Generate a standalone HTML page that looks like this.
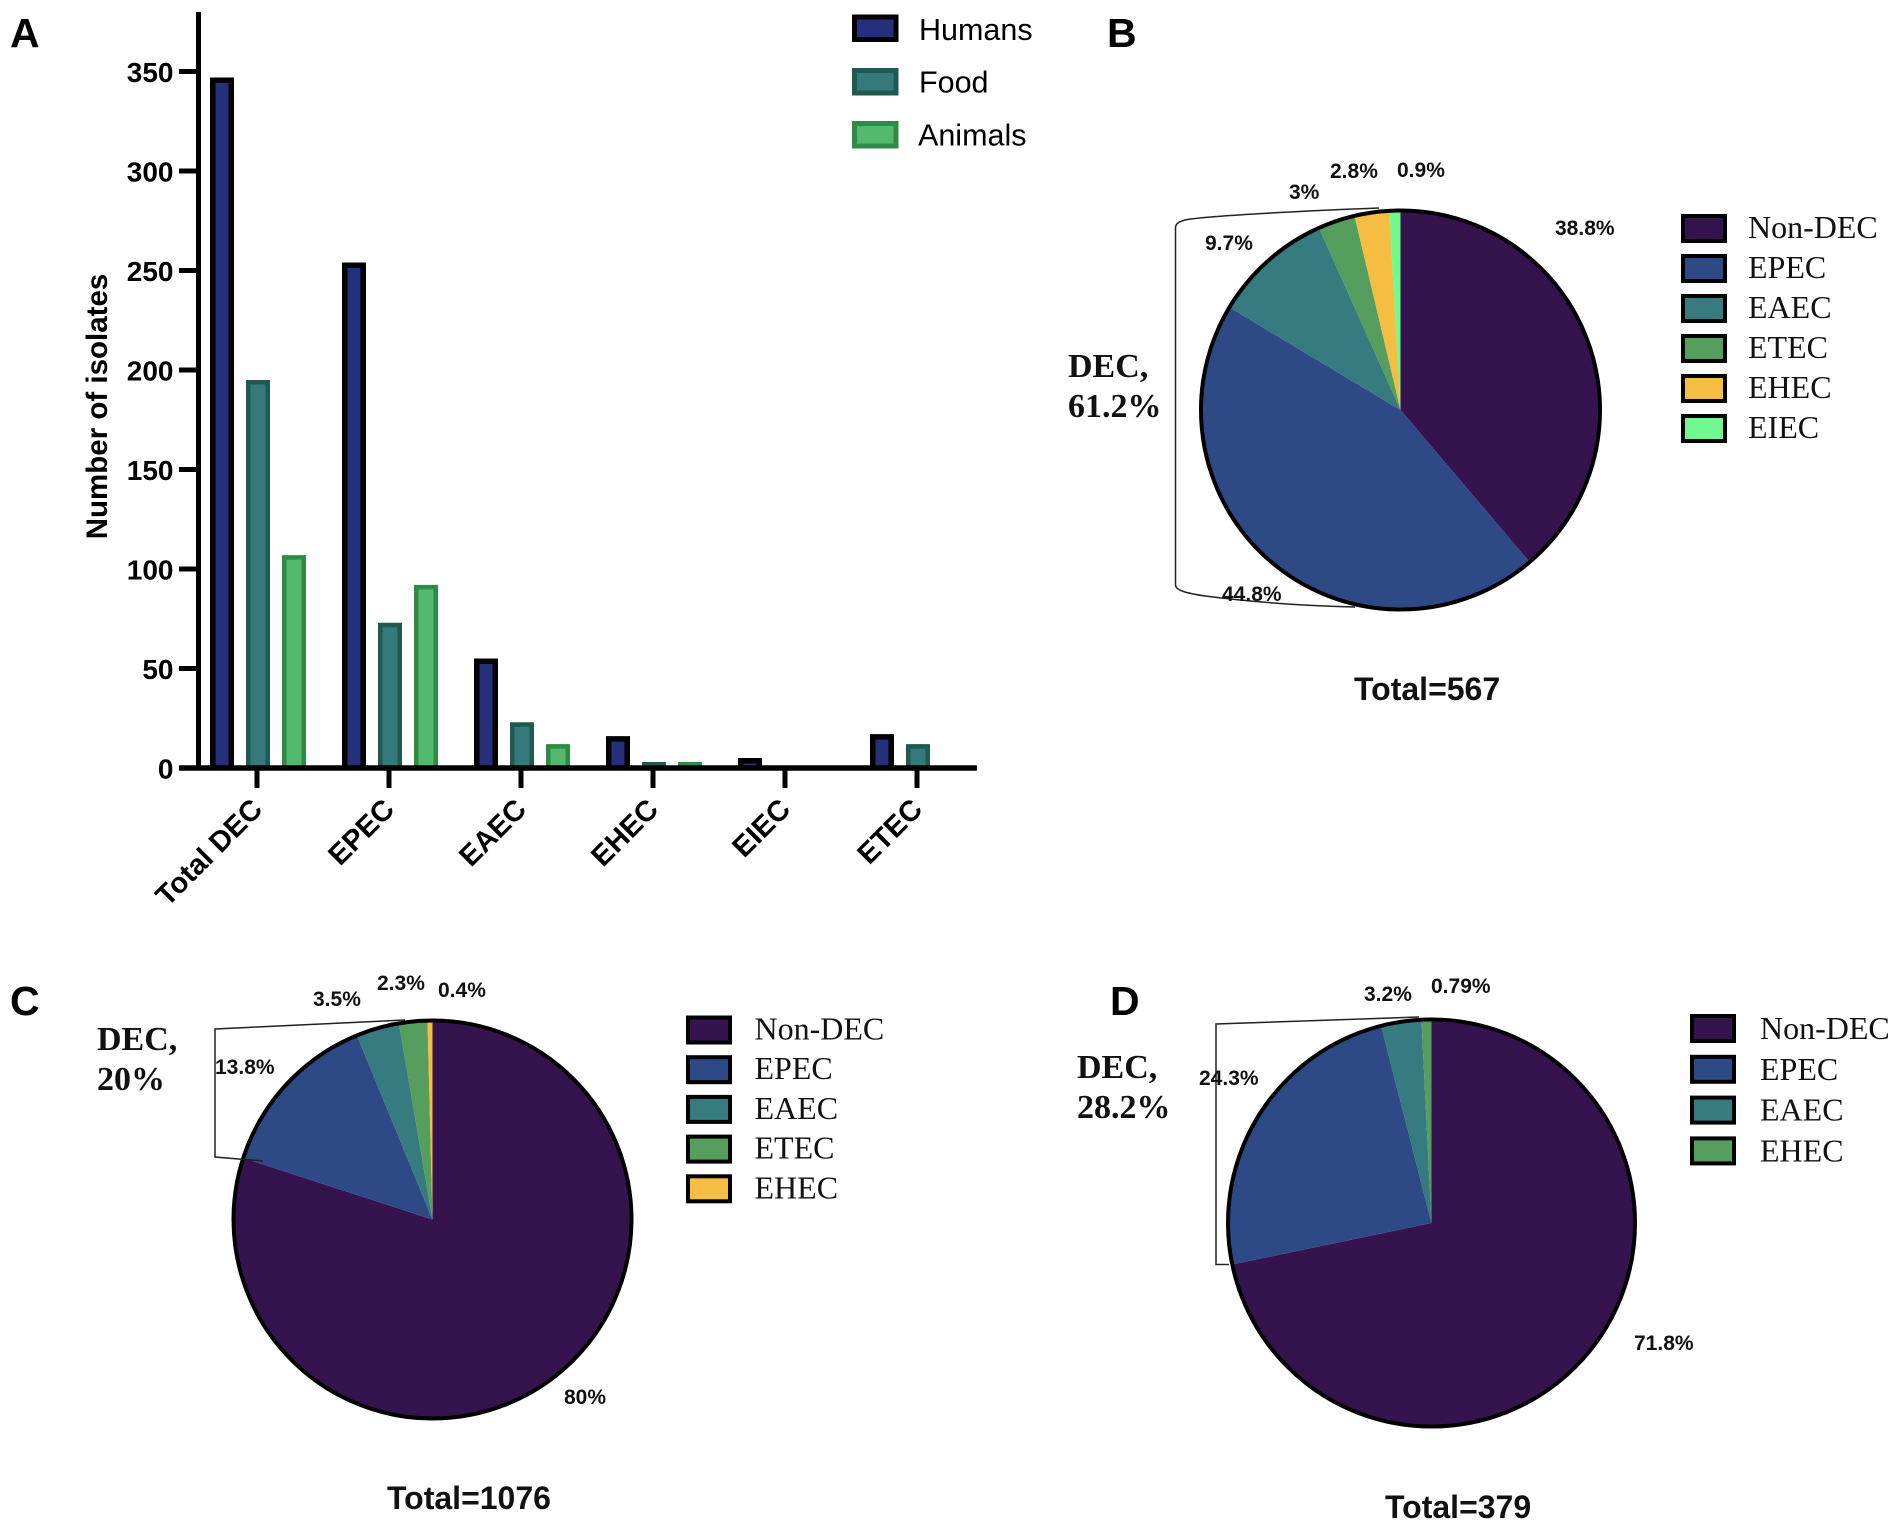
<!DOCTYPE html>
<html lang="en">
<head>
<meta charset="utf-8">
<title>DEC isolates by pathotype</title>
<style>
html,body{margin:0;padding:0;background:#fff;width:1901px;height:1533px;overflow:hidden}
svg{display:block}
.sans{font-family:"Liberation Sans",sans-serif}
.serif{font-family:"Liberation Serif",serif}
.pct{font-family:"Liberation Sans",sans-serif;font-weight:700;font-size:21px;fill:#111}
.dec{font-family:"Liberation Serif",serif;font-weight:700;font-size:34px;fill:#111}
.total{font-family:"Liberation Sans",sans-serif;font-weight:700;font-size:32px;fill:#111}
.letter{font-family:"Liberation Sans",sans-serif;font-weight:700;font-size:41px;fill:#000}
.leg{font-family:"Liberation Serif",serif;font-size:32px;fill:#111}
.tick{font-family:"Liberation Sans",sans-serif;font-weight:700;font-size:28px;fill:#000}
.xtick{font-family:"Liberation Sans",sans-serif;font-weight:700;font-size:29px;fill:#000}
.ytitle{font-family:"Liberation Sans",sans-serif;font-weight:700;font-size:29.5px;fill:#000}
</style>
</head>
<body>
<svg id="figure" width="1901" height="1533" viewBox="0 0 1901 1533" xmlns="http://www.w3.org/2000/svg">
  <rect width="1901" height="1533" fill="#fff"/>

  <text class="letter" x="10" y="47">A</text>
  <text class="letter" x="1107" y="47">B</text>
  <text class="letter" x="10" y="1015">C</text>
  <text class="letter" x="1110" y="1015">D</text>

  <g id="panel-a"></g>

  <g id="pie-b"></g>
  <g id="pie-c"></g>
  <g id="pie-d"></g>

  <path d="M1379 208 C1300 211 1205 216 1185 220 C1178 222 1175.5 224 1175.5 228 L1175.5 585 C1175.5 590 1185 593 1205 596 C1260 603 1310 606 1355 607" fill="none" stroke="#222" stroke-width="1.5"/>
  <path d="M405 1020 L215 1029 L215 1157 L263 1161" fill="none" stroke="#222" stroke-width="1.5"/>
  <path d="M1419 1017 L1216 1024 L1216 1264.5 L1229 1264.5" fill="none" stroke="#222" stroke-width="1.5"/>

  <g>
    <text class="dec" x="1068" y="377">DEC,</text>
    <text class="dec" x="1068" y="417">61.2%</text>
    <text class="pct" x="1555" y="235">38.8%</text>
    <text class="pct" x="1222" y="601">44.8%</text>
    <text class="pct" x="1205" y="250">9.7%</text>
    <text class="pct" x="1289" y="199">3%</text>
    <text class="pct" x="1330" y="178">2.8%</text>
    <text class="pct" x="1397" y="177">0.9%</text>
    <text class="total" x="1354" y="700">Total=567</text>
  </g>
  <g>
    <text class="dec" x="97" y="1050">DEC,</text>
    <text class="dec" x="97" y="1090">20%</text>
    <text class="pct" x="564" y="1404">80%</text>
    <text class="pct" x="215" y="1074">13.8%</text>
    <text class="pct" x="313" y="1006">3.5%</text>
    <text class="pct" x="377" y="990">2.3%</text>
    <text class="pct" x="438" y="997">0.4%</text>
    <text class="total" x="387" y="1509">Total=1076</text>
  </g>
  <g>
    <text class="dec" x="1077" y="1078">DEC,</text>
    <text class="dec" x="1077" y="1118">28.2%</text>
    <text class="pct" x="1634" y="1350">71.8%</text>
    <text class="pct" x="1199" y="1085">24.3%</text>
    <text class="pct" x="1364" y="1001">3.2%</text>
    <text class="pct" x="1431" y="993">0.79%</text>
    <text class="total" x="1385" y="1518">Total=379</text>
  </g>
</svg>
<script>
/* Panel A data */
const barCategories = ['Total DEC', 'EPEC', 'EAEC', 'EHEC', 'EIEC', 'ETEC'];
const humansValues = [347, 254, 55, 16, 5, 17];
const foodValues = [195, 73, 23, 3, 1, 12];
const animalsValues = [107, 92, 12, 3, 0, 0];
const barTickValues = [0, 50, 100, 150, 200, 250, 300, 350];
const barSeriesNames = ['Humans', 'Food', 'Animals'];

/* Panels B, C, D data */
const pieBNames = ['Non-DEC', 'EPEC', 'EAEC', 'ETEC', 'EHEC', 'EIEC'];
const pieBValues = [38.8, 44.8, 9.7, 3, 2.8, 0.9];
const pieCNames = ['Non-DEC', 'EPEC', 'EAEC', 'ETEC', 'EHEC'];
const pieCValues = [80, 13.8, 3.5, 2.3, 0.4];
const pieDNames = ['Non-DEC', 'EPEC', 'EAEC', 'EHEC'];
const pieDValues = [71.8, 24.3, 3.2, 0.79];

const NS = 'http://www.w3.org/2000/svg';
const slicePalette = ['#35134e', '#2e4a86', '#367b80', '#559e5d', '#f5bd41', '#6ff98f'];
const seriesFill = ['#25307c', '#35797a', '#52b96f'];
const seriesStroke = ['#000', '#1f5a50', '#2f8a47'];
const seriesStrokeWidth = [5.5, 4.5, 4.5];
const legendTextTops = [40, 92.3, 145.3];
const legendBoxTops = [14.5, 68, 121];

function make(tag, attrs, parent) {
  const el = document.createElementNS(NS, tag);
  for (const k in attrs) el.setAttribute(k, attrs[k]);
  parent.appendChild(el);
  return el;
}

/* axis functions for panel A */
function yScale(v) { return 768 - v * 1.99; }
function xScale(i) { return 257 + i * 132; }

function drawBars() {
  const g = document.getElementById('panel-a');
  const allSeries = [humansValues, foodValues, animalsValues];
  allSeries.forEach(function (vals, s) {
    vals.forEach(function (v, i) {
      if (v <= 0) return;
      const sw = seriesStrokeWidth[s];
      const cx = xScale(i) + 1 + (s - 1) * 36;
      const top = yScale(v) + sw / 2;
      const l = cx - 12 + sw / 2;
      const r = cx + 12 - sw / 2;
      const bar = make('path', {
        d: 'M' + l + ' 768 V' + top + ' H' + r + ' V768',
        fill: seriesFill[s], stroke: seriesStroke[s], 'stroke-width': sw
      }, g);
      
      
    });
  });

  const yAxis = make('line', { x1: 198.5, y1: 12, x2: 198.5, y2: 770.5, stroke: '#000', 'stroke-width': 5 }, g);
  
  
  const xAxis = make('line', { x1: 179, y1: 768, x2: 977, y2: 768, stroke: '#000', 'stroke-width': 5.5 }, g);
  
  

  barTickValues.forEach(function (t) {
    const y = yScale(t);
    const tk = make('line', { x1: 179, y1: y, x2: 198, y2: y, stroke: '#000', 'stroke-width': 5 }, g);
    
    
    const lb = make('text', { x: 173.5, y: y + 10.5, 'text-anchor': 'end', class: 'tick' }, g);
    
    
    lb.textContent = t;
  });

  barCategories.forEach(function (c, i) {
    const x = xScale(i);
    const tk = make('line', { x1: x, y1: 768, x2: x, y2: 788, stroke: '#000', 'stroke-width': 5 }, g);
    
    
    const lb = make('text', { transform: 'translate(' + (x + 7) + ' 811) rotate(-45)', 'text-anchor': 'end', class: 'xtick' }, g);
    
    
    lb.textContent = c;
  });

  const title = make('text', { transform: 'translate(107 406.5) rotate(-90)', 'text-anchor': 'middle', class: 'ytitle' }, g);
  
  
  title.textContent = 'Number of isolates';

  barSeriesNames.forEach(function (n, s) {
    const box = make('rect', { x: 854.5, y: legendBoxTops[s] + 2.5, width: 41.5, height: 22.5, fill: seriesFill[s], stroke: seriesStroke[s], 'stroke-width': 5 }, g);
    
    
    const lb = make('text', { x: s === 2 ? 918 : 919, y: legendTextTops[s], class: 'sans', 'font-size': 30.5, fill: '#000' }, g);
    
    
    lb.textContent = n;
  });
}

function polar(cx, cy, r, frac) {
  const a = frac * 2 * Math.PI;
  return [cx + r * Math.sin(a), cy - r * Math.cos(a)];
}

function drawPie(id, names, values, cx, cy, r, legX, legY, legStep, txtX, txtDy) {
  const g = document.getElementById(id);
  const total = values.reduce(function (a, b) { return a + b; }, 0);
  let acc = 0;
  values.forEach(function (v, i) {
    const f0 = acc / total;
    acc += v;
    const f1 = acc / total;
    const p0 = polar(cx, cy, r, f0);
    const p1 = polar(cx, cy, r, f1);
    const large = (f1 - f0) > 0.5 ? 1 : 0;
    const slice = make('path', {
      d: 'M' + cx + ' ' + cy + ' L' + p0[0] + ' ' + p0[1] + ' A' + r + ' ' + r + ' 0 ' + large + ' 1 ' + p1[0] + ' ' + p1[1] + ' Z',
      fill: slicePalette[i]
    }, g);
    
    
  });
  const ring = make('circle', { cx: cx, cy: cy, r: r, fill: 'none', stroke: '#000', 'stroke-width': 4 }, g);
  
  

  names.forEach(function (n, i) {
    const y = legY + i * legStep;
    const box = make('rect', { x: legX + 2, y: y + 2, width: 42, height: 25, fill: slicePalette[i], stroke: '#000', 'stroke-width': 4 }, g);
    
    
    const lb = make('text', { x: txtX, y: y + txtDy, class: 'leg' }, g);
    
    
    lb.textContent = n;
  });
}

drawBars();
drawPie('pie-b', pieBNames, pieBValues, 1400.5, 410, 199.5, 1681, 214, 40, 1748, 24);
drawPie('pie-c', pieCNames, pieCValues, 432.5, 1219.5, 199, 686, 1015.5, 39.7, 754.5, 24);
drawPie('pie-d', pieDNames, pieDValues, 1431.5, 1223, 203.5, 1690, 1014, 40.8, 1760, 25);
</script>
</body>
</html>
